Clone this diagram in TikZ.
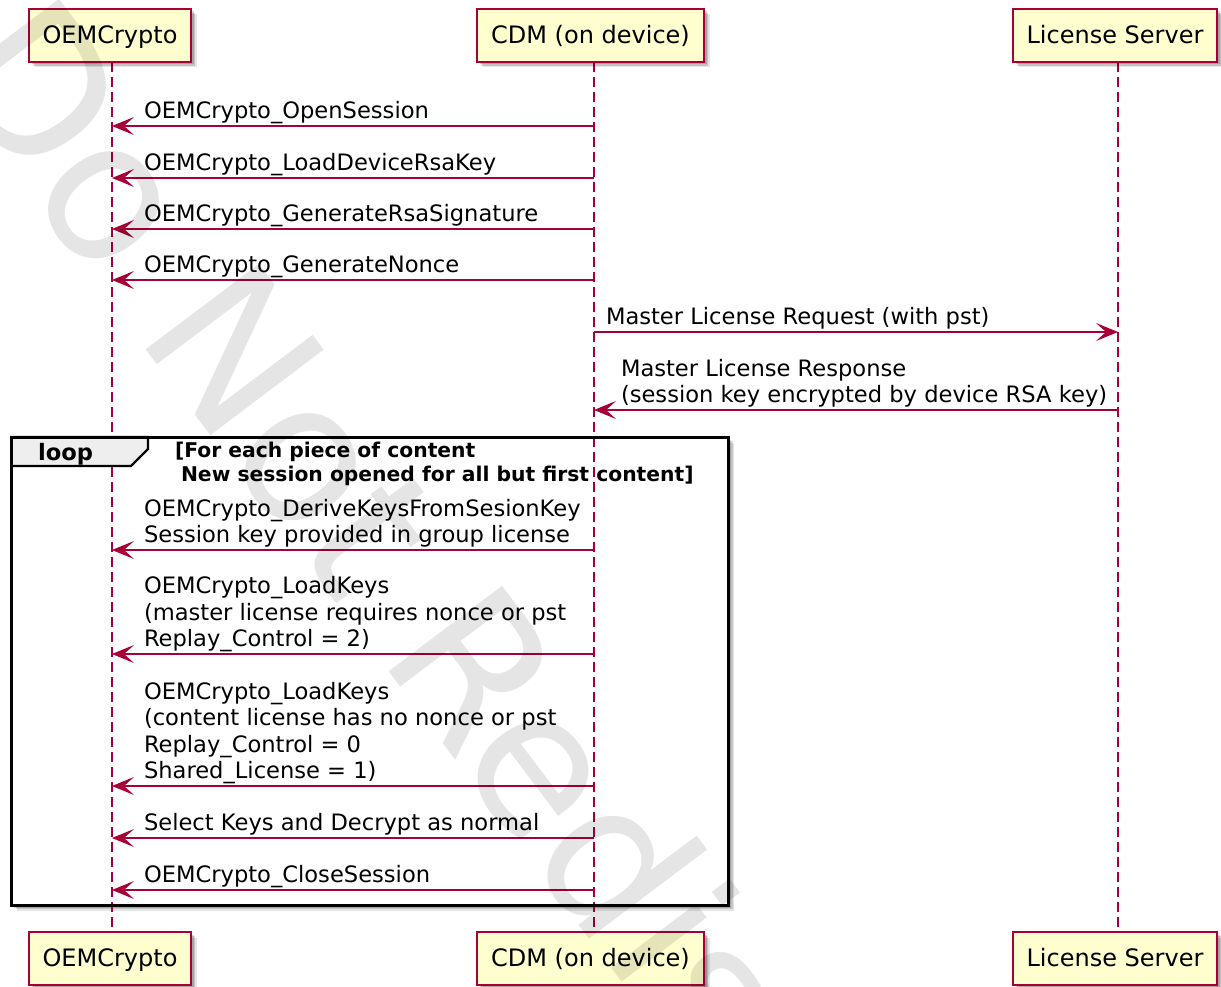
\documentclass[tikz,border=0pt]{standalone}
\usepackage{fontspec}
\setmainfont{DejaVu Sans}
\usetikzlibrary{arrows.meta,shadows,calc}
\definecolor{pred}{HTML}{A80036}
\definecolor{pfill}{HTML}{FEFECE}
\definecolor{tabfill}{HTML}{EEEEEE}
\newcommand\dn{\rule[-7.5pt]{0pt}{7.5pt}}
\begin{document}
\begin{tikzpicture}[x=1pt,y=-1pt,
  every node/.style={inner sep=0pt,outer sep=0pt},
  shad/.style={drop shadow={shadow xshift=5.5pt,shadow yshift=-5.5pt,opacity=0.10,fill=black},
               drop shadow={shadow xshift=4pt,shadow yshift=-4pt,opacity=0.14,fill=black},
               drop shadow={shadow xshift=2.5pt,shadow yshift=-2.5pt,opacity=0.16,fill=black}},
  part/.style={draw=pred,fill=pfill,line width=1.8pt,minimum height=53pt,
    text height=16pt,text depth=0pt,font=\fontsize{24}{28}\selectfont,shad},
  life/.style={draw=pred,line width=1.4pt,dash pattern=on 10pt off 5pt},
  msg/.style={draw=pred,line width=1.5pt,-{Stealth[length=22pt,width=18pt,inset=10pt]}},
  lbl/.style={anchor=south west,align=left,font=\fontsize{22.6}{26.3}\selectfont},
  hdr/.style={anchor=south west,align=left,font=\fontsize{20.3}{23.5}\selectfont\bfseries},
  wm/.style={anchor=base west,rotate=-53,text=black,text opacity=0.1,
    font=\fontsize{195}{200}\selectfont}]
\useasboundingbox (0,0) rectangle (1221,987);
\fill[white] (0,0) rectangle (1221,987);

% lifeline x positions
\coordinate (oX) at (112,0);
\coordinate (cX) at (594,0);
\coordinate (lX) at (1118,0);

% loop frame background and shadow
\path[fill=white,shad] (11.5,437) rectangle (728.5,905);

% lifelines
\coordinate (oT) at (112,62);  \coordinate (oB) at (112,932);
\coordinate (cT) at (594,62);  \coordinate (cB) at (594,932);
\coordinate (lT) at (1118,62); \coordinate (lB) at (1118,932);
\draw[life] (oT) -- (oB);
\draw[life] (cT) -- (cB);
\draw[life] (lT) -- (lB);

% loop tab and frame
\draw[fill=tabfill,line width=2.2pt,line join=miter]
  (11.5,437) -- (148,437) -- (148,449) -- (131,466) -- (11.5,466) -- cycle;
\draw[line width=3pt] (11.5,437) rectangle (728.5,905);
\node[anchor=base west,font=\fontsize{22.6}{26}\selectfont\bfseries] (lp) at (38,460.5) {loop};
\node[hdr] (hd) at (175,488.5) {[For each piece of content\\\hspace*{6pt}New session opened for all but first content]\dn};

% messages
\draw[msg] ($(cX)+(0,126)$) -- ($(oX)+(0,126)$);
\node[lbl] (t1) at (144,126) {OEMCrypto\_OpenSession\dn};
\draw[msg] ($(cX)+(0,178)$) -- ($(oX)+(0,178)$);
\node[lbl] (t2) at (144,178) {OEMCrypto\_LoadDeviceRsaKey\dn};
\draw[msg] ($(cX)+(0,229)$) -- ($(oX)+(0,229)$);
\node[lbl] (t3) at (144,229) {OEMCrypto\_GenerateRsaSignature\dn};
\draw[msg] ($(cX)+(0,280)$) -- ($(oX)+(0,280)$);
\node[lbl] (t4) at (144,280) {OEMCrypto\_GenerateNonce\dn};
\draw[msg] ($(cX)+(0,332)$) -- ($(lX)+(0,332)$);
\node[lbl] (t5) at (606,332) {Master License Request (with pst)\dn};
\draw[msg] ($(lX)+(0,410)$) -- ($(cX)+(0,410)$);
\node[lbl] (t6) at (621,410) {Master License Response\\(session key encrypted by device RSA key)\dn};
\draw[msg] ($(cX)+(0,550)$) -- ($(oX)+(0,550)$);
\node[lbl] (t7) at (144,550) {OEMCrypto\_DeriveKeysFromSesionKey\\Session key provided in group license\dn};
\draw[msg] ($(cX)+(0,654)$) -- ($(oX)+(0,654)$);
\node[lbl] (t8) at (144,654) {OEMCrypto\_LoadKeys\\(master license requires nonce or pst\\Replay\_Control = 2)\dn};
\draw[msg] ($(cX)+(0,786)$) -- ($(oX)+(0,786)$);
\node[lbl] (t9) at (144,786) {OEMCrypto\_LoadKeys\\(content license has no nonce or pst\\Replay\_Control = 0\\Shared\_License = 1)\dn};
\draw[msg] ($(cX)+(0,838)$) -- ($(oX)+(0,838)$);
\node[lbl] (t10) at (144,838) {Select Keys and Decrypt as normal\dn};
\draw[msg] ($(cX)+(0,890)$) -- ($(oX)+(0,890)$);
\node[lbl] (t11) at (144,890) {OEMCrypto\_CloseSession\dn};

% participants
\node[part,minimum width=162pt] (o1) at (110,35.5) {OEMCrypto};
\node[part,minimum width=227pt] (c1) at (590.5,35.5) {CDM (on device)};
\node[part,minimum width=204pt] (l1) at (1115,35.5) {License Server};
\node[part,minimum width=162pt] (o2) at (110,958.5) {OEMCrypto};
\node[part,minimum width=227pt] (c2) at (590.5,958.5) {CDM (on device)};
\node[part,minimum width=204pt] (l2) at (1115,958.5) {License Server};

% watermark
\begin{scope}
\clip (0,0) rectangle (1221,987);
\node[wm] (wmk) at (-65,70) {Do Not Redistribute};
\end{scope}
\end{tikzpicture}
\end{document}
